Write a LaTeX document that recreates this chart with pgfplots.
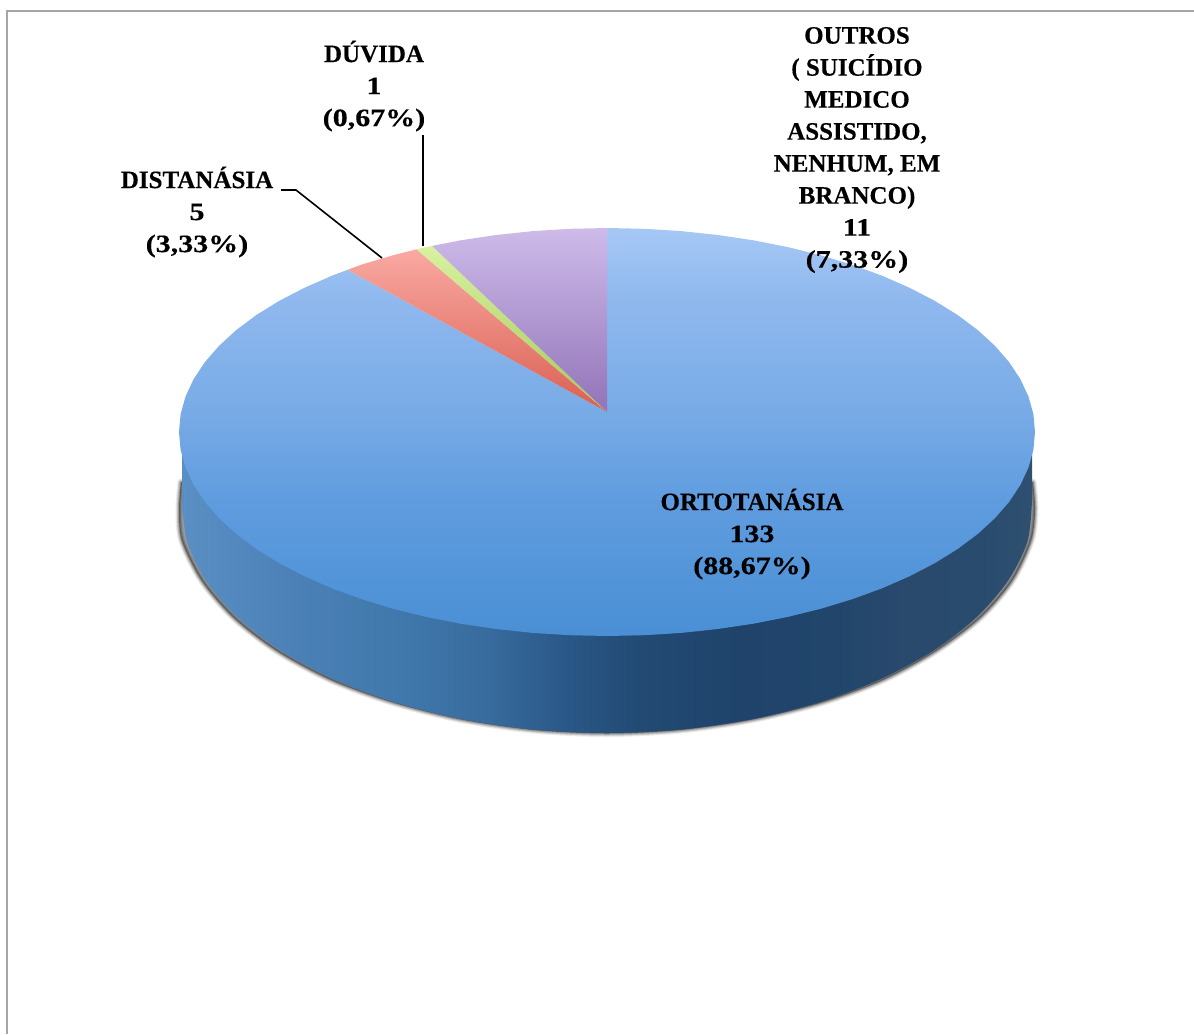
\documentclass[border=0pt]{standalone}
\usepackage{pgfplots}
\usepackage{pgfplotstable}
\usepackage{fontspec}
\pgfplotsset{compat=1.18}
\setmainfont{Liberation Serif}[BoldFeatures={FakeBold=0.35}]
\newfontfamily\numfont{Liberation Serif}[BoldFeatures={FakeBold=0.35,FakeStretch=1.2}]

\definecolor{frameline}{HTML}{A6A6A6}
\definecolor{purpleTop}{HTML}{CDBBE9}
\definecolor{purpleLow}{HTML}{9273B8}
\definecolor{redTop}{HTML}{F9A9A2}
\definecolor{redLow}{HTML}{DA5F52}
\definecolor{greenTop}{HTML}{D8F2A0}
\definecolor{greenLow}{HTML}{A6C85C}

\tikzset{lab/.style={font=\fontsize{25}{32}\selectfont\bfseries, align=center, text=black, inner sep=0pt}}
% Counts and percentages are set a little wider than the names
\newcommand{\num}[1]{{\numfont\bfseries #1}}

% Top face of the largest slice
\pgfdeclareverticalshading{bluetop}{100bp}{
  rgb(0bp)=(0.290,0.561,0.831);
  rgb(25bp)=(0.290,0.561,0.831);
  rgb(41.7bp)=(0.373,0.612,0.875);
  rgb(52.5bp)=(0.471,0.671,0.902);
  rgb(66.2bp)=(0.561,0.722,0.933);
  rgb(75bp)=(0.651,0.784,0.961);
  rgb(100bp)=(0.651,0.784,0.961)}

% Outer wall of the pie, running from left to right
\pgfdeclarehorizontalshading{bluewall}{100bp}{
  rgb(0bp)=(0.353,0.561,0.769);
  rgb(25bp)=(0.353,0.561,0.769);
  rgb(32bp)=(0.290,0.502,0.714);
  rgb(38bp)=(0.251,0.471,0.671);
  rgb(43bp)=(0.220,0.420,0.620);
  rgb(47.5bp)=(0.165,0.345,0.533);
  rgb(52bp)=(0.133,0.290,0.451);
  rgb(58bp)=(0.122,0.263,0.420);
  rgb(63bp)=(0.129,0.271,0.420);
  rgb(68bp)=(0.165,0.290,0.427);
  rgb(72bp)=(0.161,0.294,0.431);
  rgb(75bp)=(0.184,0.314,0.439);
  rgb(100bp)=(0.184,0.314,0.439)}

% Lower rim of the pie, in picture pixels
\pgfplotstableread{
x y
182 501
187 541.3
205.7 580.3
237.2 617
279.9 650.1
332.5 678.7
393.5 701.9
461 719
532.9 729.5
607 733
681.1 729.5
753 719
820.5 701.9
881.5 678.7
934.1 650.1
976.8 617
1008.3 580.3
1027.5 541.3
1032 501
}\rimtable

% Outline of the cast shadow, wider at the two sides
\pgfplotstableread{
x y
181 482
179 510
182 541
202 581
234 618
277 651
331 680
393 702.5
461 719.5
533 730
607 733.5
681 730
753 719.5
822 702.5
883 680
936 651
980 618
1012 581
1031 541
1035 510
1033 482
}\shadowtable

% Edge of the top face from the twelve o'clock point, clockwise
\pgfplotstableread{
x y
607 412
607 228
644.3 228.8
681.3 231.1
717.8 235.0
753.4 240.3
787.9 247.1
821 255.3
852.5 264.9
882.1 275.7
909.6 287.8
934.9 300.9
957.6 315.0
977.7 330
994.9 345.8
1009.2 362.2
1020.4 379.2
1028.5 396.6
1033.4 414.2
1035 432
1033.4 449.8
1028.5 467.4
1020.4 484.8
1009.2 501.8
994.9 518.2
977.7 534
957.6 549.0
934.9 563.1
909.6 576.2
882.1 588.3
852.5 599.1
821 608.7
787.9 616.9
753.4 623.7
717.8 629.0
681.3 632.9
644.3 635.2
607 636
569.7 635.2
532.7 632.9
496.2 629.0
460.6 623.7
426.1 616.9
393 608.7
361.5 599.1
331.9 588.3
304.4 576.2
279.1 563.1
256.4 549.0
236.3 534
219.1 518.2
204.8 501.8
193.6 484.8
185.5 467.4
180.6 449.8
179 432
180.6 414.2
185.5 396.6
193.6 379.2
204.8 362.2
219.1 345.8
236.3 330
256.4 315.0
279.1 300.9
304.4 287.8
331.9 275.7
347.6 269.8
607 412
}\ortotable

\pgfplotstableread{
x y
607 412
347.6 269.8
361.5 264.6
393 255.3
416.5 249.3
607 412
}\distatable

\pgfplotstableread{
x y
607 412
416.5 249.3
432 245.9
607 412
}\duvidatable

\pgfplotstableread{
x y
607 412
432 245.9
460.6 240.3
496.2 235.0
532.7 231.1
569.7 228.8
607 228
607 412
}\outrostable

\begin{document}
\begin{tikzpicture}
\begin{axis}[
  scale only axis,
  width=1194pt, height=1034pt,
  xmin=0, xmax=1194,
  ymin=0, ymax=1034,
  y dir=reverse,
  hide axis,
  clip=true,
]
% Page-sized extent of the picture
\path (axis cs:0,0) rectangle (axis cs:1194,1034);

% Frame along the top and the left
\addplot[frameline, line width=2.2pt, forget plot] coordinates {(7,1034) (7,11) (1194,11)};

% Soft shadow under the wall: filled layers that grow outwards and fade
\addplot[black, fill=black, opacity=0.08, line width=7pt, line cap=round, smooth, forget plot] table {\shadowtable};
\addplot[black, fill=black, opacity=0.10, line width=5pt, line cap=round, smooth, forget plot] table {\shadowtable};
\addplot[black, fill=black, opacity=0.13, line width=3.5pt, line cap=round, smooth, forget plot] table {\shadowtable};
\addplot[black, fill=black, opacity=0.16, line width=2pt, line cap=round, smooth, forget plot] table {\shadowtable};

% Outer wall, closed over the straight part behind the top face
\addplot[draw=none, shading=bluewall, smooth, forget plot] table {\rimtable};
\addplot[draw=none, shading=bluewall, forget plot] coordinates {(182,432) (1032,432) (1032,501) (182,501)};

% Top faces of the slices
\addplot[draw=none, shading=bluetop, forget plot] table {\ortotable};
\addplot[draw=none, top color=redTop, bottom color=redLow, forget plot] table {\distatable};
\addplot[draw=none, top color=greenTop, bottom color=greenLow, forget plot] table {\duvidatable};
\addplot[draw=none, top color=purpleTop, bottom color=purpleLow, forget plot] table {\outrostable};

% Leader lines
\addplot[black, line width=1.6pt, forget plot] coordinates {(281,190) (296,190) (382,258)};
\addplot[black, line width=1.6pt, forget plot] coordinates {(423,135) (423,246)};

% Value labels
\node[lab] at (axis cs:752,534) {ORTOTANÁSIA\\\num{133}\\\num{(88,67\%)}};
\node[lab] at (axis cs:197,212) {DISTANÁSIA\\\num{5}\\\num{(3,33\%)}};
\node[lab] at (axis cs:374,86) {DÚVIDA\\\num{1}\\\num{(0,67\%)}};
\node[lab] at (axis cs:857,150) {OUTROS\\( SUICÍDIO\\MEDICO\\ASSISTIDO,\\NENHUM, EM\\BRANCO)\\\num{11}\\\num{(7,33\%)}};
\end{axis}
\end{tikzpicture}
\end{document}
